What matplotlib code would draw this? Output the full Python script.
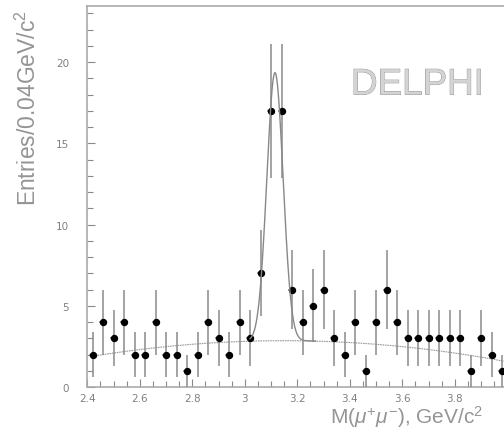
import numpy as np
import matplotlib
matplotlib.use('Agg')
import matplotlib.pyplot as plt
import matplotlib.patheffects as pe
from matplotlib.ticker import MultipleLocator

plt.rcParams['mathtext.fontset'] = 'custom'
plt.rcParams['mathtext.rm'] = 'Liberation Sans'
plt.rcParams['mathtext.it'] = 'Liberation Sans:italic'

# bin centres (0.04 GeV bins) and entries
mass = [2.42, 2.46, 2.50, 2.54, 2.58, 2.62, 2.66, 2.70, 2.74, 2.78,
        2.82, 2.86, 2.90, 2.94, 2.98, 3.02, 3.06, 3.10, 3.14, 3.18,
        3.22, 3.26, 3.30, 3.34, 3.38, 3.42, 3.46, 3.50, 3.54, 3.58,
        3.62, 3.66, 3.70, 3.74, 3.78, 3.82, 3.86, 3.90, 3.94, 3.98]
entries = [2, 4, 3, 4, 2, 2, 4, 2, 2, 1,
           2, 4, 3, 2, 4, 3, 7, 17, 17, 6,
           4, 5, 6, 3, 2, 4, 1, 4, 6, 4,
           3, 3, 3, 3, 3, 3, 1, 3, 2, 1]

# fit: gaussian peak on a quadratic background
bg_top = 2.85
bg_centre = 3.15
bg_curv = 1.8
peak_amp = 16.5
peak_mean = 3.115
peak_sigma = 0.031

grey = '#8a8a8a'

def background(x):
    return bg_top - bg_curv * (x - bg_centre) ** 2

def fitfunc(x):
    return background(x) + peak_amp * np.exp(-0.5 * ((x - peak_mean) / peak_sigma) ** 2)


fig = plt.figure(figsize=(5.04, 4.31), dpi=100)
# axes runs past the right edge, like the cropped original
ax = fig.add_axes([87.3 / 504, 1 - 388 / 431, 1.1, (388 - 7) / 431])

x = np.array(mass)
y = np.array(entries)
ax.errorbar(x, y, yerr=np.sqrt(y), xerr=0.015, fmt='o', color='black',
            ecolor=grey, elinewidth=1.1, capsize=0, markersize=4.3, zorder=3)

xb = np.linspace(2.42, 4.1, 400)
ax.plot(xb, background(xb), color='#999999', lw=0.8, ls=(0, (1.5, 0.7)), zorder=2)
xf = np.linspace(3.02, 3.27, 300)
ax.plot(xf, fitfunc(xf), color='#888888', lw=1.0, zorder=4)

ax.set_xlim(2.4, 2.4 + 1.1 * 504 / 262.5)
ax.set_ylim(0, 23.45)

ax.xaxis.set_major_locator(MultipleLocator(0.2))
ax.xaxis.set_minor_locator(MultipleLocator(0.05))
ax.yaxis.set_major_locator(MultipleLocator(5))
ax.yaxis.set_minor_locator(MultipleLocator(1))
ax.xaxis.set_major_formatter(matplotlib.ticker.FuncFormatter(lambda v, p: f'{v:g}'))

ax.tick_params(which='both', direction='in', color=grey, labelcolor='#808080',
               labelsize=7.5, top=False, right=False)
ax.tick_params(which='major', length=6, width=0.8)
ax.tick_params(which='minor', length=4, width=0.8)
ax.tick_params(axis='x', pad=4)
ax.tick_params(axis='y', pad=13)
for s in ax.spines.values():
    s.set_color('#aaaaaa')
    s.set_linewidth(1.2)

fig.text(28 / 504, 1 - 10 / 431, r'Entries/0.04GeV/c$^{2}$', rotation=90,
         ha='center', va='top', fontsize=16.5, color='#959595',
         family='Liberation Sans')
fig.text(330 / 504, 1 - 430 / 431, r'M($\mu^{+}\mu^{-}$), GeV/c$^{2}$',
         ha='left', va='bottom', fontsize=15, color='#959595',
         family='Liberation Sans')

t = ax.text(351 / 504, 1 - 86 / 431, 'DELPHI', transform=fig.transFigure,
            ha='left', va='center', fontsize=26.5, color='#d4d4d4',
            family='Liberation Sans')
t.set_path_effects([pe.withStroke(linewidth=0.6, foreground='#8a8a8a')])

fig.savefig('out.png', dpi=100)
